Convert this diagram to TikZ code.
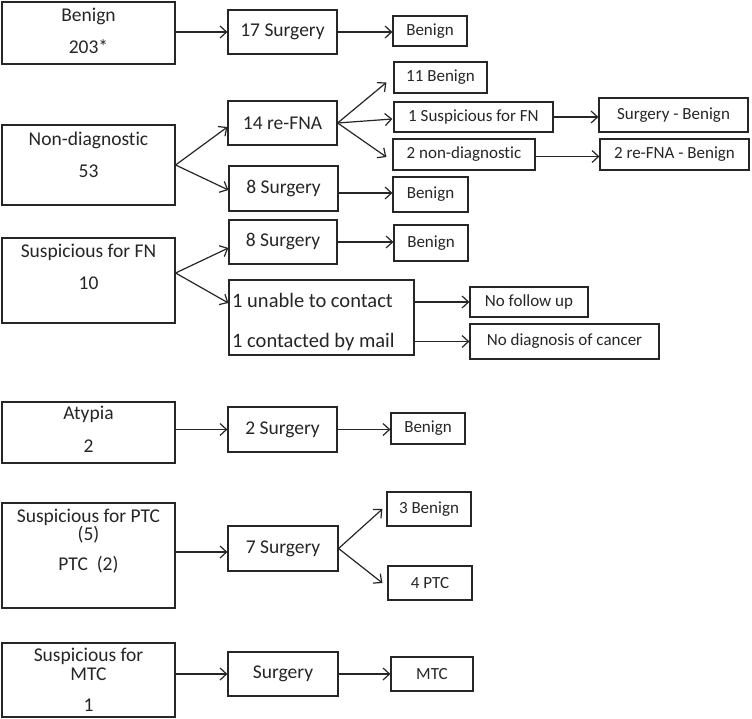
\documentclass[tikz,border=0pt]{standalone}
\usepackage{fontspec}
\setmainfont{Carlito}[Ligatures={NoCommon}]
\usetikzlibrary{arrows.meta,calc}
\begin{document}
\begin{tikzpicture}[x=1pt,y=-1pt,
  box/.style={draw=black!85, line width=1.2pt, inner sep=0pt, fill=white},
  big/.style={font=\fontsize{19.5}{23}\selectfont, text=black!85},
  small/.style={font=\fontsize{17}{20}\selectfont, text=black!85},
  arr/.style={draw=black!85, line width=1.2pt, -{Straight Barb[length=6.5pt,width=12pt]}}]
\useasboundingbox (0,0) rectangle (752,719);
\fill[white] (0,0) rectangle (752,719);

% ---- row 1: Benign
\node[box, minimum width=173pt, minimum height=62pt] (A1) at (88.5,33) {};
\node[big, inner sep=0pt] (A1t1) at (88.5,16) {Benign};
\node[big, inner sep=0pt] (A1t2) at (88.5,47) {203*};
\node[box, big, minimum width=109pt, minimum height=44pt] (B1) at (282.5,32) {17 Surgery};
\node[box, small, minimum width=74pt, minimum height=30pt] (C1) at (430,31) {Benign};

% ---- row 2: Non-diagnostic
\node[box, minimum width=173pt, minimum height=80pt] (A2) at (88.5,165) {};
\node[big, inner sep=0pt] (A2t1) at (88.5,140) {Non-diagnostic};
\node[big, inner sep=0pt] (A2t2) at (88.5,171) {53};
\node[box, big, minimum width=109pt, minimum height=44pt] (B2a) at (282.5,123) {14 re-FNA};
\node[box, big, minimum width=109pt, minimum height=45pt] (B2b) at (283.5,188.5) {8 Surgery};
\node[box, small, minimum width=93pt, minimum height=31pt] (C2a) at (440.5,77.5) {11 Benign};
\node[box, small, minimum width=159pt, minimum height=30pt] (C2b) at (473.5,117) {1 Suspicious for FN};
\node[box, small, minimum width=142pt, minimum height=31pt] (C2c) at (464,154.5) {2 non-diagnostic};
\node[box, small, minimum width=149pt, minimum height=34pt] (D2b) at (673.5,115) {Surgery - Benign};
\node[box, small, minimum width=149pt, minimum height=31pt] (D2c) at (674.5,154.5) {2 re-FNA - Benign};
\node[box, small, minimum width=75pt, minimum height=35pt] (C2d) at (430.5,194.5) {Benign};

% ---- row 3: Suspicious for FN
\node[box, minimum width=173pt, minimum height=85pt] (A3) at (88.5,280.5) {};
\node[big, inner sep=0pt] (A3t1) at (88.5,252) {Suspicious for FN};
\node[big, inner sep=0pt] (A3t2) at (88.5,283) {10};
\node[box, big, minimum width=108pt, minimum height=44pt] (B3a) at (283,242) {8 Surgery};
\node[box, minimum width=185pt, minimum height=75pt] (B3b) at (321.5,317.5) {};
\node[big, font=\fontsize{20.5}{24}\selectfont, inner sep=0pt, anchor=west] (B3bt1) at (232,300) {1 unable to contact};
\node[big, font=\fontsize{20.5}{24}\selectfont, inner sep=0pt, anchor=west] (B3bt2) at (232,342) {1 contacted by mail};
\node[box, small, minimum width=74pt, minimum height=36pt] (C3a) at (431,243) {Benign};
\node[box, small, minimum width=118pt, minimum height=30pt] (C3b) at (529,302) {No follow up};
\node[box, small, minimum width=189pt, minimum height=35pt] (C3c) at (564.5,341.5) {No diagnosis of cancer};

% ---- row 4: Atypia
\node[box, minimum width=173pt, minimum height=61pt] (A4) at (88.5,432.5) {};
\node[big, inner sep=0pt] (A4t1) at (88.5,414) {Atypia};
\node[big, inner sep=0pt] (A4t2) at (88.5,446) {2};
\node[box, big, minimum width=109pt, minimum height=45pt] (B4) at (282.5,429.5) {2 Surgery};
\node[box, small, minimum width=74pt, minimum height=31pt] (C4) at (428,428.5) {Benign};

% ---- row 5: Suspicious for PTC
\node[box, minimum width=173pt, minimum height=105pt] (A5) at (88.5,555.5) {};
\node[big, inner sep=0pt] (A5t1) at (88.5,517) {Suspicious for PTC};
\node[big, inner sep=0pt] (A5t2) at (88.5,535) {(5)};
\node[big, inner sep=0pt] (A5t3) at (88.5,565) {PTC~~(2)};
\node[box, big, minimum width=110pt, minimum height=45pt] (B5) at (283,548.5) {7 Surgery};
\node[box, small, minimum width=84pt, minimum height=34pt] (C5a) at (429,509) {3 Benign};
\node[box, small, minimum width=84pt, minimum height=34pt] (C5b) at (430,583) {4 PTC};

% ---- row 6: Suspicious for MTC
\node[box, minimum width=173pt, minimum height=74pt] (A6) at (88.5,680) {};
\node[big, inner sep=0pt] (A6t1) at (88.5,656) {Suspicious for};
\node[big, inner sep=0pt] (A6t2) at (88.5,674) {MTC};
\node[big, inner sep=0pt] (A6t3) at (88.5,705) {1};
\node[box, big, minimum width=110pt, minimum height=44pt] (B6) at (283,674) {Surgery};
\node[box, small, minimum width=82pt, minimum height=34pt] (C6) at (432,674) {MTC};

% ---- connectors
\draw[arr] (A1.east |- B1.west) -- (B1.west);
\draw[arr] (B1.east) -- (B1.east -| C1.west);

\draw[arr] (A2.east) -- ([yshift=-4pt]B2a.west);
\draw[arr] (A2.east) -- ([yshift=-1.5pt]B2b.west);
\draw[arr] (B2a.east) -- ([xshift=-7pt,yshift=-5pt]C2a.west);
\draw[arr] (B2a.east) -- ([xshift=-1pt,yshift=-2pt]C2b.west);
\draw[arr] (B2a.east) -- ([xshift=-6pt,yshift=-2.5pt]C2c.west);
\draw[arr] (C2b.east) -- (C2b.east -| D2b.west);
\draw[arr] ([yshift=-2pt]C2c.east) -- ([yshift=-2pt]D2c.west);
\draw[arr] ([yshift=-4.5pt]B2b.east) -- ([yshift=-4.5pt]B2b.east -| C2d.west);

\draw[arr] ([yshift=7.5pt]A3.east) -- ([yshift=-6pt]B3a.west);
\draw[arr] ([yshift=7.5pt]A3.east) -- ([yshift=14.5pt]B3b.west);
\draw[arr] (B3a.east) -- (B3a.east -| C3a.west);
\draw[arr] (B3b.east |- C3b.west) -- (C3b.west);
\draw[arr] (B3b.east |- C3c.west) -- (C3c.west);

\draw[arr] (A4.east |- B4.west) -- (B4.west);
\draw[arr] (B4.east) -- (B4.east -| C4.west);

\draw[arr] ([yshift=3.5pt]A5.east) -- ([yshift=3.5pt]A5.east -| B5.west);
\draw[arr] (B5.east) -- ([xshift=-4pt]C5a.west);
\draw[arr] (B5.east) -- ([xshift=-5pt]C5b.west);

\draw[arr] (A6.east |- B6.west) -- (B6.west);
\draw[arr] (B6.east) -- (C6.west);
\end{tikzpicture}
\end{document}
